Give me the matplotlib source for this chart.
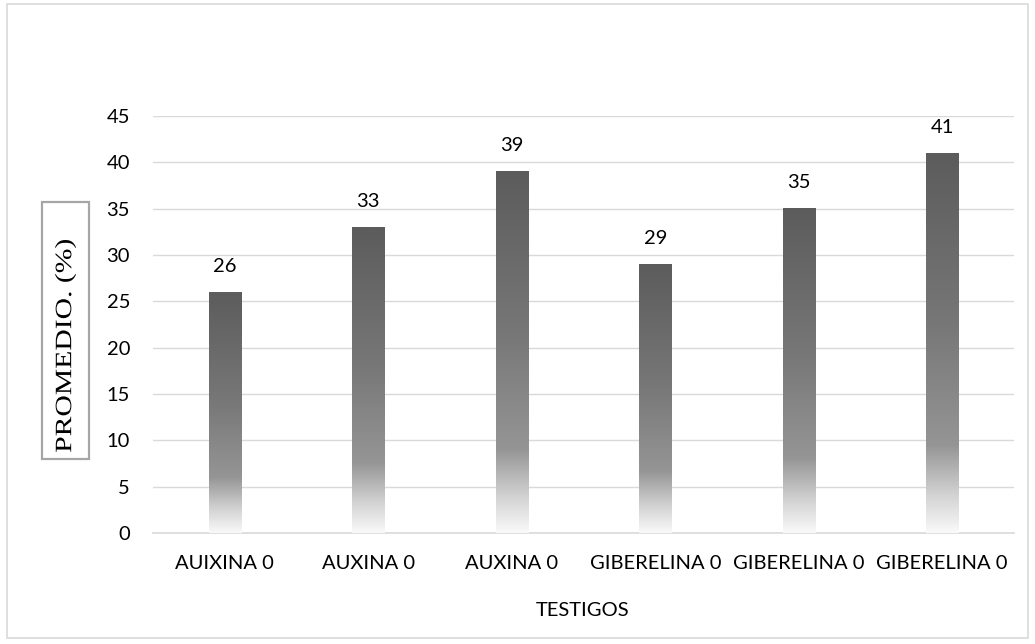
import numpy as np
import matplotlib
matplotlib.use("Agg")
import matplotlib.pyplot as plt
from matplotlib.colors import LinearSegmentedColormap
from matplotlib.patches import Rectangle, PathPatch
from matplotlib.textpath import TextPath
from matplotlib.font_manager import FontProperties
from matplotlib.transforms import Affine2D

categories = ["AUIXINA 0", "AUXINA 0", "AUXINA 0",
              "GIBERELINA 0", "GIBERELINA 0", "GIBERELINA 0"]
values = [26, 33, 39, 29, 35, 41]
y_ticks = [0, 5, 10, 15, 20, 25, 30, 35, 40, 45]

SANS = ["Lato", "DejaVu Sans"]
FS = 14.5

W, H, DPI = 1035, 644, 100
fig = plt.figure(figsize=(W / DPI, H / DPI), dpi=DPI)
fig.patch.set_facecolor("white")


def px_rect(x0, y0, x1, y1):
    """Figure-fraction rectangle from top-left pixel coordinates."""
    return (x0 / W, 1 - y1 / H, (x1 - x0) / W, (y1 - y0) / H)


# outer chart-area frame
l, b, w, h = px_rect(7, 4, 1028, 638)
fig.add_artist(Rectangle((l, b), w, h, transform=fig.transFigure, fill=False,
                         edgecolor="#d9d9d9", linewidth=1.2))

ax = fig.add_axes(px_rect(153, 116, 1014, 533))

# gradient: dark top -> mid gray -> white at base
cmap = LinearSegmentedColormap.from_list(
    "bar_grad", [(0.0, "#5c5c5c"), (0.45, "#777777"), (0.77, "#959595"),
                 (0.9, "#d2d2d2"), (1.0, "#f9f9f9")])
grad = np.linspace(0, 1, 256).reshape(-1, 1)

bar_w = 0.225
x = np.arange(len(categories))
bars = ax.bar(x, values, width=bar_w, color="none", zorder=3)
for rect, v in zip(bars, values):
    x0 = rect.get_x()
    ax.imshow(grad, cmap=cmap, aspect="auto", origin="upper",
              extent=(x0, x0 + bar_w, 0, v), zorder=3,
              interpolation="bilinear")
    ax.text(x0 + bar_w / 2, v + 2.8, f"{v}", ha="center", va="center",
            fontsize=FS, family=SANS, color="#000000")

ax.set_xlim(-0.5, len(categories) - 0.5)
ax.set_ylim(0, 45)
ax.set_yticks(y_ticks)
ax.set_yticklabels([str(t) for t in y_ticks], family=SANS, fontsize=FS)
ax.set_xticks(x)
ax.set_xticklabels(categories, family=SANS, fontsize=FS)
ax.tick_params(axis="both", length=0, colors="#000000")
ax.tick_params(axis="y", pad=16.5)
ax.tick_params(axis="x", pad=16)

ax.grid(axis="y", color="#d9d9d9", linewidth=1.0, zorder=0)
ax.set_axisbelow(True)
for side in ("top", "right", "left"):
    ax.spines[side].set_visible(False)
ax.spines["bottom"].set_color("#d9d9d9")
ax.spines["bottom"].set_linewidth(1.2)

fig.text(583 / W, 1 - 610 / H, "TESTIGOS", ha="center", va="center",
         fontsize=FS, family=SANS)

# boxed vertical axis title
l, b, w, h = px_rect(42, 202, 89, 459)
fig.add_artist(Rectangle((l, b), w, h, transform=fig.transFigure,
                         facecolor="white", edgecolor="#a6a6a6",
                         linewidth=1.6))

title_path = TextPath((0, 0), "PROMEDIO. (%)", size=100,
                      prop=FontProperties(family="Liberation Serif"))
ext = title_path.get_extents()
cx, cy = (ext.x0 + ext.x1) / 2, (ext.y0 + ext.y1) / 2
sx = 212 / ext.width          # rendered length in pixels
sy = 15.5 / 66.2              # cap height in pixels
tr = (Affine2D().translate(-cx, -cy).scale(sx, sy).rotate_deg(90)
      .translate(65.5, H - 346).scale(1 / DPI) + fig.dpi_scale_trans)
fig.add_artist(PathPatch(title_path, transform=tr, facecolor="black",
                         edgecolor="none"))

fig.savefig("out.png", dpi=DPI, facecolor="white")
